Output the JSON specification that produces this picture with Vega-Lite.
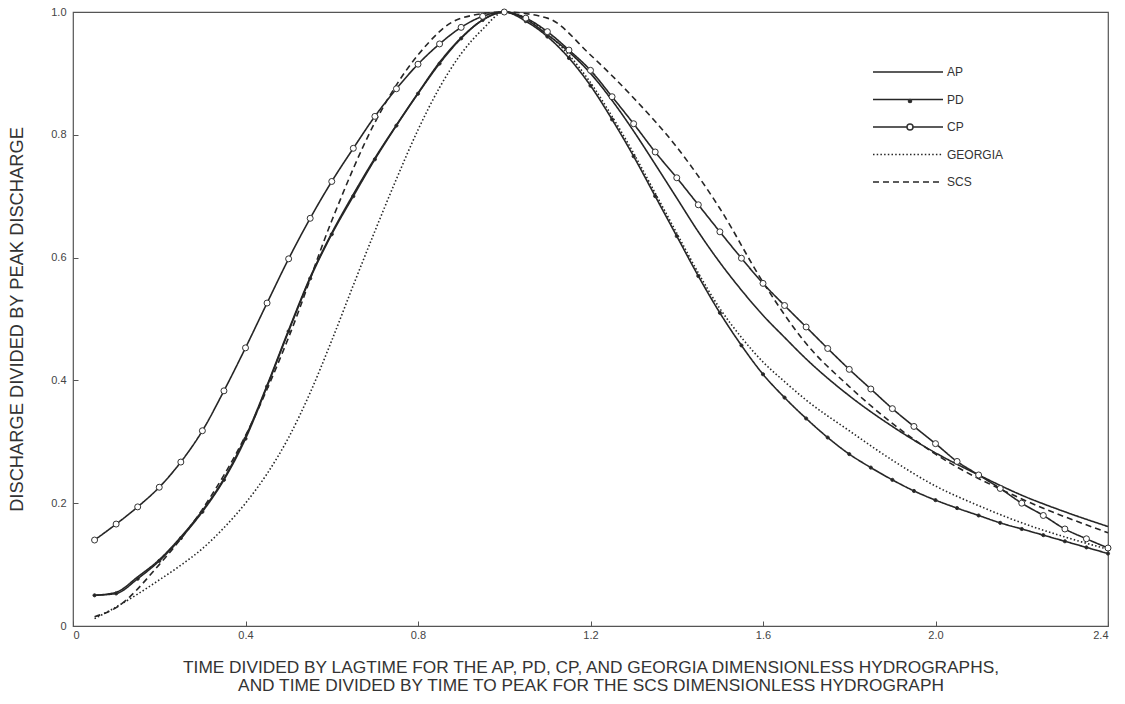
{
  "$schema": "https://vega.github.io/schema/vega-lite/v6.json",
  "width": 1035,
  "height": 614,
  "autosize": {"type": "none"},
  "padding": {"left": 73, "top": 12, "right": 17, "bottom": 78},
  "background": "white",
  "config": {
    "font": "Liberation Sans",
    "view": {"stroke": "#555", "strokeWidth": 1.2},
    "axis": {
      "domain": false,
      "grid": false,
      "ticks": true,
      "tickSize": -5,
      "tickColor": "#555",
      "labelFontSize": 11,
      "labelColor": "#444",
      "titleFontWeight": "normal",
      "titleColor": "#333"
    }
  },
  "datasets": {
    "curves": [
      {"series": "AP", "t": 0.05, "q": 0.05}, {"series": "AP", "t": 0.1, "q": 0.055}, {"series": "AP", "t": 0.15, "q": 0.08}, {"series": "AP", "t": 0.2, "q": 0.108}, {"series": "AP", "t": 0.25, "q": 0.145}, {"series": "AP", "t": 0.3, "q": 0.188}, {"series": "AP", "t": 0.35, "q": 0.24}, {"series": "AP", "t": 0.4, "q": 0.308}, {"series": "AP", "t": 0.45, "q": 0.392}, {"series": "AP", "t": 0.5, "q": 0.482}, {"series": "AP", "t": 0.55, "q": 0.568}, {"series": "AP", "t": 0.6, "q": 0.64}, {"series": "AP", "t": 0.65, "q": 0.703}, {"series": "AP", "t": 0.7, "q": 0.762}, {"series": "AP", "t": 0.75, "q": 0.816}, {"series": "AP", "t": 0.8, "q": 0.868}, {"series": "AP", "t": 0.85, "q": 0.918}, {"series": "AP", "t": 0.9, "q": 0.958}, {"series": "AP", "t": 0.95, "q": 0.987}, {"series": "AP", "t": 1.0, "q": 1.0}, {"series": "AP", "t": 1.05, "q": 0.988}, {"series": "AP", "t": 1.1, "q": 0.963}, {"series": "AP", "t": 1.15, "q": 0.935}, {"series": "AP", "t": 1.2, "q": 0.9}, {"series": "AP", "t": 1.25, "q": 0.856}, {"series": "AP", "t": 1.3, "q": 0.806}, {"series": "AP", "t": 1.35, "q": 0.752}, {"series": "AP", "t": 1.4, "q": 0.697}, {"series": "AP", "t": 1.45, "q": 0.642}, {"series": "AP", "t": 1.5, "q": 0.592}, {"series": "AP", "t": 1.55, "q": 0.547}, {"series": "AP", "t": 1.6, "q": 0.506}, {"series": "AP", "t": 1.65, "q": 0.47}, {"series": "AP", "t": 1.7, "q": 0.435}, {"series": "AP", "t": 1.8, "q": 0.375}, {"series": "AP", "t": 1.9, "q": 0.325}, {"series": "AP", "t": 2.0, "q": 0.282}, {"series": "AP", "t": 2.1, "q": 0.246}, {"series": "AP", "t": 2.2, "q": 0.213}, {"series": "AP", "t": 2.3, "q": 0.186}, {"series": "AP", "t": 2.4, "q": 0.162},

      {"series": "PD", "t": 0.05, "q": 0.05}, {"series": "PD", "t": 0.1, "q": 0.053}, {"series": "PD", "t": 0.15, "q": 0.077}, {"series": "PD", "t": 0.2, "q": 0.106}, {"series": "PD", "t": 0.25, "q": 0.143}, {"series": "PD", "t": 0.3, "q": 0.186}, {"series": "PD", "t": 0.35, "q": 0.238}, {"series": "PD", "t": 0.4, "q": 0.305}, {"series": "PD", "t": 0.45, "q": 0.39}, {"series": "PD", "t": 0.5, "q": 0.48}, {"series": "PD", "t": 0.55, "q": 0.566}, {"series": "PD", "t": 0.6, "q": 0.638}, {"series": "PD", "t": 0.65, "q": 0.7}, {"series": "PD", "t": 0.7, "q": 0.76}, {"series": "PD", "t": 0.75, "q": 0.815}, {"series": "PD", "t": 0.8, "q": 0.867}, {"series": "PD", "t": 0.85, "q": 0.916}, {"series": "PD", "t": 0.9, "q": 0.957}, {"series": "PD", "t": 0.95, "q": 0.987}, {"series": "PD", "t": 1.0, "q": 1.0}, {"series": "PD", "t": 1.05, "q": 0.985}, {"series": "PD", "t": 1.1, "q": 0.96}, {"series": "PD", "t": 1.15, "q": 0.925}, {"series": "PD", "t": 1.2, "q": 0.88}, {"series": "PD", "t": 1.25, "q": 0.825}, {"series": "PD", "t": 1.3, "q": 0.765}, {"series": "PD", "t": 1.35, "q": 0.7}, {"series": "PD", "t": 1.4, "q": 0.635}, {"series": "PD", "t": 1.45, "q": 0.57}, {"series": "PD", "t": 1.5, "q": 0.51}, {"series": "PD", "t": 1.55, "q": 0.457}, {"series": "PD", "t": 1.6, "q": 0.41}, {"series": "PD", "t": 1.65, "q": 0.372}, {"series": "PD", "t": 1.7, "q": 0.338}, {"series": "PD", "t": 1.75, "q": 0.307}, {"series": "PD", "t": 1.8, "q": 0.28}, {"series": "PD", "t": 1.85, "q": 0.258}, {"series": "PD", "t": 1.9, "q": 0.238}, {"series": "PD", "t": 1.95, "q": 0.22}, {"series": "PD", "t": 2.0, "q": 0.205}, {"series": "PD", "t": 2.05, "q": 0.192}, {"series": "PD", "t": 2.1, "q": 0.18}, {"series": "PD", "t": 2.15, "q": 0.168}, {"series": "PD", "t": 2.2, "q": 0.158}, {"series": "PD", "t": 2.25, "q": 0.148}, {"series": "PD", "t": 2.3, "q": 0.138}, {"series": "PD", "t": 2.35, "q": 0.128}, {"series": "PD", "t": 2.4, "q": 0.118},

      {"series": "CP", "t": 0.05, "q": 0.14}, {"series": "CP", "t": 0.1, "q": 0.166}, {"series": "CP", "t": 0.15, "q": 0.194}, {"series": "CP", "t": 0.2, "q": 0.226}, {"series": "CP", "t": 0.25, "q": 0.267}, {"series": "CP", "t": 0.3, "q": 0.318}, {"series": "CP", "t": 0.35, "q": 0.383}, {"series": "CP", "t": 0.4, "q": 0.453}, {"series": "CP", "t": 0.45, "q": 0.526}, {"series": "CP", "t": 0.5, "q": 0.598}, {"series": "CP", "t": 0.55, "q": 0.664}, {"series": "CP", "t": 0.6, "q": 0.724}, {"series": "CP", "t": 0.65, "q": 0.778}, {"series": "CP", "t": 0.7, "q": 0.83}, {"series": "CP", "t": 0.75, "q": 0.875}, {"series": "CP", "t": 0.8, "q": 0.915}, {"series": "CP", "t": 0.85, "q": 0.948}, {"series": "CP", "t": 0.9, "q": 0.975}, {"series": "CP", "t": 0.95, "q": 0.993}, {"series": "CP", "t": 1.0, "q": 1.0}, {"series": "CP", "t": 1.05, "q": 0.99}, {"series": "CP", "t": 1.1, "q": 0.968}, {"series": "CP", "t": 1.15, "q": 0.938}, {"series": "CP", "t": 1.2, "q": 0.905}, {"series": "CP", "t": 1.25, "q": 0.862}, {"series": "CP", "t": 1.3, "q": 0.818}, {"series": "CP", "t": 1.35, "q": 0.772}, {"series": "CP", "t": 1.4, "q": 0.73}, {"series": "CP", "t": 1.45, "q": 0.686}, {"series": "CP", "t": 1.5, "q": 0.642}, {"series": "CP", "t": 1.55, "q": 0.599}, {"series": "CP", "t": 1.6, "q": 0.558}, {"series": "CP", "t": 1.65, "q": 0.522}, {"series": "CP", "t": 1.7, "q": 0.487}, {"series": "CP", "t": 1.75, "q": 0.452}, {"series": "CP", "t": 1.8, "q": 0.418}, {"series": "CP", "t": 1.85, "q": 0.386}, {"series": "CP", "t": 1.9, "q": 0.354}, {"series": "CP", "t": 1.95, "q": 0.325}, {"series": "CP", "t": 2.0, "q": 0.297}, {"series": "CP", "t": 2.05, "q": 0.268}, {"series": "CP", "t": 2.1, "q": 0.246}, {"series": "CP", "t": 2.15, "q": 0.224}, {"series": "CP", "t": 2.2, "q": 0.2}, {"series": "CP", "t": 2.25, "q": 0.18}, {"series": "CP", "t": 2.3, "q": 0.158}, {"series": "CP", "t": 2.35, "q": 0.142}, {"series": "CP", "t": 2.4, "q": 0.127},

      {"series": "GEORGIA", "t": 0.05, "q": 0.012}, {"series": "GEORGIA", "t": 0.1, "q": 0.031}, {"series": "GEORGIA", "t": 0.15, "q": 0.052}, {"series": "GEORGIA", "t": 0.2, "q": 0.075}, {"series": "GEORGIA", "t": 0.25, "q": 0.099}, {"series": "GEORGIA", "t": 0.3, "q": 0.126}, {"series": "GEORGIA", "t": 0.35, "q": 0.16}, {"series": "GEORGIA", "t": 0.4, "q": 0.2}, {"series": "GEORGIA", "t": 0.45, "q": 0.248}, {"series": "GEORGIA", "t": 0.5, "q": 0.307}, {"series": "GEORGIA", "t": 0.55, "q": 0.38}, {"series": "GEORGIA", "t": 0.6, "q": 0.465}, {"series": "GEORGIA", "t": 0.65, "q": 0.555}, {"series": "GEORGIA", "t": 0.7, "q": 0.643}, {"series": "GEORGIA", "t": 0.75, "q": 0.728}, {"series": "GEORGIA", "t": 0.8, "q": 0.808}, {"series": "GEORGIA", "t": 0.85, "q": 0.877}, {"series": "GEORGIA", "t": 0.9, "q": 0.932}, {"series": "GEORGIA", "t": 0.95, "q": 0.972}, {"series": "GEORGIA", "t": 1.0, "q": 1.0}, {"series": "GEORGIA", "t": 1.05, "q": 0.99}, {"series": "GEORGIA", "t": 1.1, "q": 0.965}, {"series": "GEORGIA", "t": 1.15, "q": 0.93}, {"series": "GEORGIA", "t": 1.2, "q": 0.885}, {"series": "GEORGIA", "t": 1.25, "q": 0.83}, {"series": "GEORGIA", "t": 1.3, "q": 0.77}, {"series": "GEORGIA", "t": 1.35, "q": 0.705}, {"series": "GEORGIA", "t": 1.4, "q": 0.64}, {"series": "GEORGIA", "t": 1.45, "q": 0.575}, {"series": "GEORGIA", "t": 1.5, "q": 0.517}, {"series": "GEORGIA", "t": 1.55, "q": 0.47}, {"series": "GEORGIA", "t": 1.6, "q": 0.43}, {"series": "GEORGIA", "t": 1.65, "q": 0.398}, {"series": "GEORGIA", "t": 1.7, "q": 0.368}, {"series": "GEORGIA", "t": 1.8, "q": 0.318}, {"series": "GEORGIA", "t": 1.9, "q": 0.27}, {"series": "GEORGIA", "t": 2.0, "q": 0.228}, {"series": "GEORGIA", "t": 2.1, "q": 0.196}, {"series": "GEORGIA", "t": 2.2, "q": 0.168}, {"series": "GEORGIA", "t": 2.3, "q": 0.145}, {"series": "GEORGIA", "t": 2.4, "q": 0.125},

      {"series": "SCS", "t": 0.05, "q": 0.015}, {"series": "SCS", "t": 0.1, "q": 0.03}, {"series": "SCS", "t": 0.2, "q": 0.1}, {"series": "SCS", "t": 0.3, "q": 0.19}, {"series": "SCS", "t": 0.4, "q": 0.31}, {"series": "SCS", "t": 0.5, "q": 0.47}, {"series": "SCS", "t": 0.6, "q": 0.66}, {"series": "SCS", "t": 0.7, "q": 0.82}, {"series": "SCS", "t": 0.8, "q": 0.93}, {"series": "SCS", "t": 0.9, "q": 0.99}, {"series": "SCS", "t": 1.0, "q": 1.0}, {"series": "SCS", "t": 1.1, "q": 0.99}, {"series": "SCS", "t": 1.2, "q": 0.93}, {"series": "SCS", "t": 1.3, "q": 0.86}, {"series": "SCS", "t": 1.4, "q": 0.78}, {"series": "SCS", "t": 1.5, "q": 0.68}, {"series": "SCS", "t": 1.6, "q": 0.56}, {"series": "SCS", "t": 1.7, "q": 0.46}, {"series": "SCS", "t": 1.8, "q": 0.39}, {"series": "SCS", "t": 1.9, "q": 0.33}, {"series": "SCS", "t": 2.0, "q": 0.28}, {"series": "SCS", "t": 2.2, "q": 0.207}, {"series": "SCS", "t": 2.4, "q": 0.152}
    ]
  },
  "data": {"name": "curves"},
  "encoding": {
    "x": {
      "field": "t",
      "type": "quantitative",
      "scale": {"domain": [0, 2.4], "nice": false, "zero": false},
      "axis": {
        "values": [0, 0.4, 0.8, 1.2, 1.6, 2.0, 2.4],
        "labelExpr": "datum.value == 0 ? '0' : format(datum.value, '.1f')",
        "labelPadding": 8,
        "title": ["TIME DIVIDED BY LAGTIME FOR THE AP, PD, CP, AND GEORGIA DIMENSIONLESS HYDROGRAPHS,", "AND TIME DIVIDED BY TIME TO PEAK FOR THE SCS DIMENSIONLESS HYDROGRAPH"],
        "titleFontSize": 17.3,
        "titlePadding": 18,
        "titleLineHeight": 18
      }
    },
    "y": {
      "field": "q",
      "type": "quantitative",
      "scale": {"domain": [0, 1], "nice": false},
      "axis": {
        "values": [0, 0.2, 0.4, 0.6, 0.8, 1.0],
        "labelExpr": "datum.value == 0 ? '0' : format(datum.value, '.1f')",
        "labelPadding": 12,
        "title": "DISCHARGE DIVIDED BY PEAK DISCHARGE",
        "titleFontSize": 18.3,
        "titlePadding": 24
      }
    }
  },
  "layer": [
    {
      "mark": {"type": "line", "interpolate": "monotone", "strokeWidth": 1.6, "color": "#262626"},
      "encoding": {
        "strokeDash": {
          "field": "series",
          "type": "nominal",
          "scale": {
            "domain": ["AP", "PD", "CP", "GEORGIA", "SCS"],
            "range": [[1, 0], [1, 0], [1, 0], [1.5, 2.2], [6, 4]]
          },
          "legend": {
            "title": null,
            "orient": "none",
            "legendX": 820,
            "legendY": 45,
            "symbolType": "M-2.5,0H2.5",
            "symbolSize": 784,
            "symbolStrokeWidth": 1.6,
            "symbolStrokeColor": "#262626",
            "symbolFillColor": "transparent",
            "labelFontSize": 12,
            "labelColor": "#333",
            "labelOffset": 24,
            "rowPadding": 6.5
          }
        }
      }
    },
    {
      "transform": [{"filter": "datum.series == 'PD' || datum.series == 'CP'"}],
      "mark": {"type": "point", "stroke": "#333", "strokeWidth": 1, "opacity": 1},
      "encoding": {
        "shape": {
          "field": "series",
          "type": "nominal",
          "scale": {"domain": ["PD", "CP"], "range": ["circle", "circle"]},
          "legend": {
            "title": null,
            "orient": "none",
            "legendX": 831,
            "legendY": 83,
            "labelExpr": "''",
            "labelFontSize": 12,
            "rowPadding": 14,
            "encode": {"symbols": {"update": {"stroke": {"value": "#333"}, "strokeWidth": {"value": 1}, "opacity": {"value": 1}}}}
          }
        },
        "size": {
          "field": "series",
          "type": "nominal",
          "scale": {"domain": ["PD", "CP"], "range": [10, 36]},
          "legend": {
            "title": null,
            "orient": "none",
            "legendX": 831,
            "legendY": 83,
            "labelExpr": "''",
            "labelFontSize": 12,
            "rowPadding": 14,
            "encode": {"symbols": {"update": {"stroke": {"value": "#333"}, "strokeWidth": {"value": 1}, "opacity": {"value": 1}}}}
          }
        },
        "fill": {
          "field": "series",
          "type": "nominal",
          "scale": {"domain": ["PD", "CP"], "range": ["#222222", "#ffffff"]},
          "legend": {
            "title": null,
            "orient": "none",
            "legendX": 831,
            "legendY": 83,
            "labelExpr": "''",
            "labelFontSize": 12,
            "rowPadding": 14,
            "encode": {"symbols": {"update": {"stroke": {"value": "#333"}, "strokeWidth": {"value": 1}, "opacity": {"value": 1}}}}
          }
        }
      }
    }
  ]
}
